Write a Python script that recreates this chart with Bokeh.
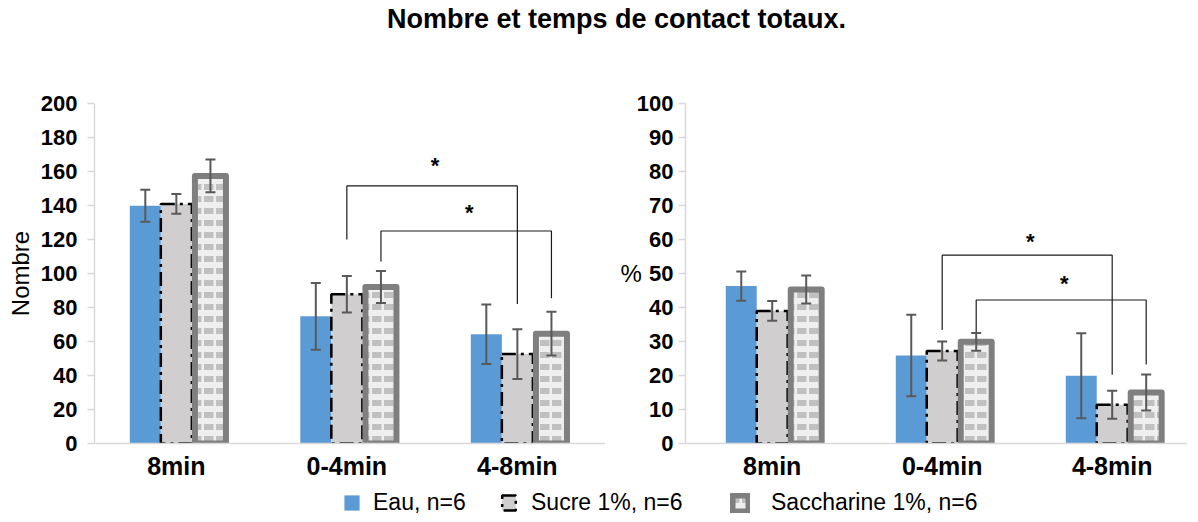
from bokeh.plotting import figure
from bokeh.models import (ColumnDataSource, Range1d, FixedTicker, Whisker, TeeHead,
                          Legend, LegendItem, Div)
from bokeh.layouts import column, row
from bokeh.core.properties import value
from bokeh.embed import file_html
from bokeh.resources import INLINE

# ---------------- data ----------------
title = "Nombre et temps de contact totaux."
categories = ["8min", "0-4min", "4-8min"]
series = ["Eau, n=6", "Sucre 1%, n=6", "Saccharine 1%, n=6"]

nombre_eau = [139.8, 74.8, 64.3]
nombre_eau_err = [9.4, 19.6, 17.5]
nombre_sucre = [140.9, 87.8, 52.6]
nombre_sucre_err = [5.8, 10.8, 14.6]
nombre_sacch = [157.4, 92.0, 64.6]
nombre_sacch_err = [9.6, 9.4, 12.9]

pct_eau = [46.3, 25.9, 19.9]
pct_eau_err = [4.3, 12.0, 12.5]
pct_sucre = [39.0, 27.2, 11.4]
pct_sucre_err = [2.9, 2.8, 4.1]
pct_sacch = [45.3, 29.9, 15.0]
pct_sacch_err = [4.1, 2.6, 5.3]

# significance brackets (series index, from category, to category, heights)
nombre_brk_series = [1, 2]
nombre_brk_from = [1, 1]
nombre_brk_to = [2, 2]
nombre_brk_top = [151.5, 125.0]
nombre_brk_left = [120.0, 107.0]
nombre_brk_right = [82.0, 85.4]
nombre_star_y = [164.3, 136.3]

pct_brk_series = [1, 2]
pct_brk_from = [1, 1]
pct_brk_to = [2, 2]
pct_brk_top = [55.4, 42.2]
pct_brk_left = [33.4, 32.3]
pct_brk_right = [20.2, 23.2]
pct_star_y = [59.8, 47.5]

# ---------------- styles ----------------
FONT = "Liberation Sans"
OFFSETS = [-0.182, 0.0, 0.2]
BAR_W = 0.182
ERR_COLOR = "#595959"
AXIS_COLOR = "#d9d9d9"
ROW_H = 422


def bar_style(k):
    if k == 0:
        return dict(fill_color="#5b9bd5", line_color=None)
    if k == 1:
        return dict(fill_color="#d0cece", line_color="black", line_width=2.5,
                    line_dash="14 5 3 5")
    # checkerboard: staggered thick dashes
    return dict(fill_color="#efefef", line_color="#7f7f7f", line_width=6,
                line_join="round", hatch_pattern="horizontal_dash",
                hatch_scale=12, hatch_weight=6, hatch_color="#c0c0c0")


def series_source(vals_k, errs_k, k):
    xs = [i + 0.5 + OFFSETS[k] for i in range(len(categories))]
    return ColumnDataSource(dict(
        x=xs, top=vals_k,
        upper=[v + e for v, e in zip(vals_k, errs_k)],
        lower=[v - e for v, e in zip(vals_k, errs_k)]))


def make_chart(vals, errs, brk, y_max, y_step, y_label, xr, width, border_left,
               horizontal_label):
    p = figure(width=width, height=ROW_H, x_range=Range1d(*xr), y_range=Range1d(0, y_max),
               toolbar_location=None, output_backend="svg",
               min_border_left=border_left, min_border_right=0,
               min_border_top=43, min_border_bottom=30)
    p.outline_line_color = None
    p.grid.visible = False

    srcs = []
    for k in range(3):
        src = series_source(vals[k], errs[k], k)
        srcs.append(src)
        p.vbar(x="x", top="top", bottom=0, width=BAR_W, source=src, **bar_style(k))

    for src in srcs:
        w = Whisker(base="x", upper="upper", lower="lower", source=src,
                    dimension="height", line_color=ERR_COLOR, line_width=2,
                    upper_head=TeeHead(size=10, line_color=ERR_COLOR, line_width=2),
                    lower_head=TeeHead(size=10, line_color=ERR_COLOR, line_width=2),
                    level="overlay")
        p.add_layout(w)

    s_idx, c_from, c_to, top, left, right, star = brk
    bxs, bys, sx = [], [], []
    for j in range(len(s_idx)):
        x0 = c_from[j] + 0.5 + OFFSETS[s_idx[j]]
        x1 = c_to[j] + 0.5 + OFFSETS[s_idx[j]]
        bxs.append([x0, x0, x1, x1])
        bys.append([left[j], top[j], top[j], right[j]])
        sx.append((x0 + x1) / 2)
    p.multi_line(xs=bxs, ys=bys, line_color="#1a1a1a", line_width=1.2)
    p.text(x=sx, y=star, text=["*"] * len(sx), text_font=value(FONT),
           text_font_style="bold", text_font_size="22px", text_align="center",
           text_baseline="middle", y_offset=1, x_offset=3, text_color="black")

    # x axis
    xa = p.xaxis[0]
    xa.ticker = FixedTicker(ticks=[i + 0.5 for i in range(len(categories))])
    xa.major_label_overrides = {i + 0.5: c for i, c in enumerate(categories)}
    xa.major_tick_line_color = None
    xa.minor_tick_line_color = None
    xa.axis_line_color = AXIS_COLOR
    xa.axis_line_width = 1.5
    xa.major_label_standoff = 2
    xa.major_label_text_font = FONT
    xa.major_label_text_font_style = "bold"
    xa.major_label_text_font_size = "25px"
    xa.major_label_text_color = "black"

    # y axis
    ya = p.yaxis[0]
    ya.ticker = FixedTicker(ticks=list(range(0, y_max + 1, y_step)))
    ya.minor_tick_line_color = None
    ya.major_tick_out = 7
    ya.major_tick_in = 0
    ya.major_tick_line_color = AXIS_COLOR
    ya.major_tick_line_width = 1.5
    ya.axis_line_color = AXIS_COLOR
    ya.axis_line_width = 1.5
    ya.major_label_text_font = FONT
    ya.major_label_text_font_style = "bold"
    ya.major_label_text_font_size = "22px"
    ya.major_label_text_color = "black"
    ya.axis_label = y_label
    ya.axis_label_text_font = FONT
    ya.axis_label_text_font_style = "normal"
    ya.axis_label_text_font_size = "24px"
    ya.axis_label_text_color = "black"
    if horizontal_label:
        ya.major_label_standoff = 5
        ya.axis_label_standoff = -8
        ya.axis_label_orientation = "horizontal"
    else:
        ya.major_label_standoff = 10
        ya.axis_label_standoff = 4
    return p


p1 = make_chart([nombre_eau, nombre_sucre, nombre_sacch],
                [nombre_eau_err, nombre_sucre_err, nombre_sacch_err],
                (nombre_brk_series, nombre_brk_from, nombre_brk_to, nombre_brk_top,
                 nombre_brk_left, nombre_brk_right, nombre_star_y),
                200, 20, "Nombre", (0.02, 3.017), 605, 94, False)

p2 = make_chart([pct_eau, pct_sucre, pct_sacch],
                [pct_eau_err, pct_sucre_err, pct_sacch_err],
                (pct_brk_series, pct_brk_from, pct_brk_to, pct_brk_top,
                 pct_brk_left, pct_brk_right, pct_star_y),
                100, 10, "%", (-0.01, 2.943), 582, 80, True)

# legend strip (hidden proxy renderers carrying each series' style)
leg = figure(width=1187, height=514 - 8 - 50 - ROW_H, x_range=Range1d(0, 3),
             y_range=Range1d(0, 200), toolbar_location=None, output_backend="svg",
             min_border=0, x_axis_location=None, y_axis_location=None)
leg.outline_line_color = None
leg.grid.visible = False
leg_pos = [(342, 0), (500, 0), (730, 0)]
leg_glyph = [(19, 19), (17, 19), (20, 20)]
leg_standoff = [12, 14, 21]
leg_vals = [nombre_eau, nombre_sucre, nombre_sacch]
leg_errs = [nombre_eau_err, nombre_sucre_err, nombre_sacch_err]
for k in range(3):
    r = leg.vbar(x="x", top="top", width=BAR_W,
                 source=series_source(leg_vals[k], leg_errs[k], k), **bar_style(k))
    r.visible = False
    lg = Legend(items=[LegendItem(label=series[k], renderers=[r], index=0)],
                location=leg_pos[k], orientation="horizontal",
                glyph_width=leg_glyph[k][0], glyph_height=leg_glyph[k][1],
                label_standoff=leg_standoff[k], padding=0, margin=0,
                border_line_color=None, background_fill_alpha=0,
                inactive_fill_alpha=0, click_policy="none",
                label_text_font=FONT, label_text_font_size="23px",
                label_text_color="black")
    leg.add_layout(lg)

title_div = Div(
    text=('<div style="width:1187px;height:50px;box-sizing:border-box;padding-left:36px;'
          'text-align:center;font-family:\'Liberation Sans\',Arial,sans-serif;'
          'font-weight:bold;font-size:27px;line-height:28px;color:#000;">'
          + title + '</div>'),
    width=1187, height=50)

layout = column(title_div, row(p1, p2), leg)

open("out.html", "w").write(file_html(layout, INLINE))
